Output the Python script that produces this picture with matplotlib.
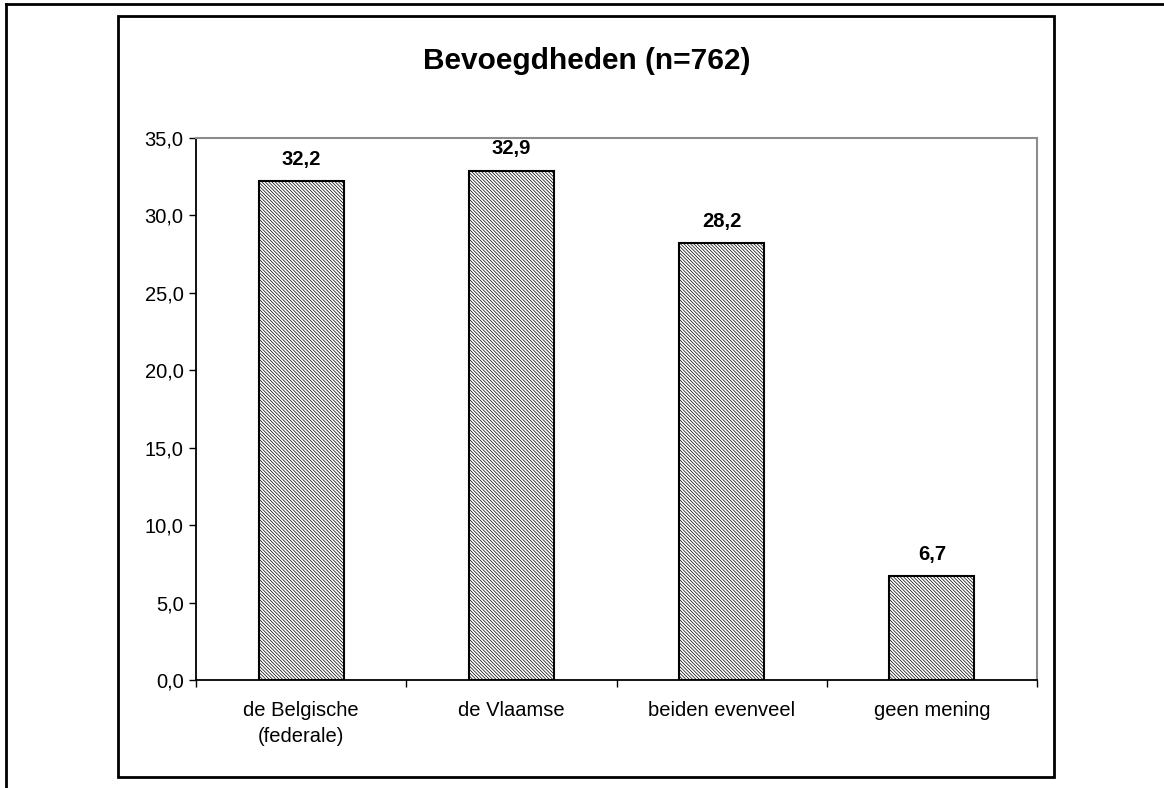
import matplotlib
matplotlib.use("Agg")

import matplotlib.pyplot as plt
from matplotlib.lines import Line2D
from matplotlib.patches import Rectangle

# -------------------------------
# Data
# -------------------------------
title = "Bevoegdheden (n=762)"
categories = ["de Belgische\n(federale)", "de Vlaamse", "beiden evenveel", "geen mening"]
values = [32.2, 32.9, 28.2, 6.7]
yticks = [0, 5, 10, 15, 20, 25, 30, 35]

plt.rcParams["font.family"] = ["Liberation Sans", "DejaVu Sans"]
plt.rcParams["hatch.color"] = "#ababab"
plt.rcParams["hatch.linewidth"] = 0.5

fig = plt.figure(figsize=(11.64, 7.88), dpi=100)
ax = fig.add_axes([196/1164, 1 - 680/788, (1037-196)/1164, (680-138)/788])

# -------------------------------
# Frames around the chart
# -------------------------------
fig.add_artist(Line2D([6/1164, 1], [1 - 4/788, 1 - 4/788], transform=fig.transFigure,
                      color="black", lw=2))
fig.add_artist(Line2D([6/1164, 6/1164], [0, 1 - 4/788], transform=fig.transFigure,
                      color="black", lw=2))
fig.add_artist(Rectangle((118/1164, 1 - 777/788), (1054-118)/1164, (777-16)/788,
                         transform=fig.transFigure, fill=False, edgecolor="black", lw=2))

# -------------------------------
# Bars
# -------------------------------
x = list(range(len(categories)))
bars = ax.bar(x, values, width=0.405, color="white", edgecolor="black",
              linewidth=1.5, hatch="\\" * 10)

for xi, v in zip(x, values):
    ax.annotate(f"{v:.1f}".replace(".", ","), (xi, v), xytext=(0, 9),
                textcoords="offset points", ha="center", va="bottom",
                fontsize=14.5, fontweight="bold")

ax.set_xlim(-0.5, len(categories) - 0.5)
ax.set_ylim(0, 35)
ax.set_yticks(yticks)
ax.set_yticklabels([f"{t:.1f}".replace(".", ",") for t in yticks], fontsize=14.5)
ax.tick_params(axis="y", direction="out", length=5, width=1, pad=4)

ax.set_xticks(x)
ax.set_xticklabels(categories, fontsize=14.5, linespacing=1.45)
ax.tick_params(axis="x", which="major", length=0, pad=15)
ax.set_xticks([i - 0.5 for i in range(len(categories) + 1)], minor=True)
ax.tick_params(axis="x", which="minor", direction="out", length=5, width=1)

for side in ["top", "right"]:
    ax.spines[side].set_color("#8c8c8c")
    ax.spines[side].set_linewidth(1.5)
for side in ["left", "bottom"]:
    ax.spines[side].set_color("black")
    ax.spines[side].set_linewidth(1.3)

fig.text(587/1164, 1 - 61/788, title, ha="center", va="center",
         fontsize=21.5, fontweight="bold")

fig.savefig("out.png", dpi=100)
